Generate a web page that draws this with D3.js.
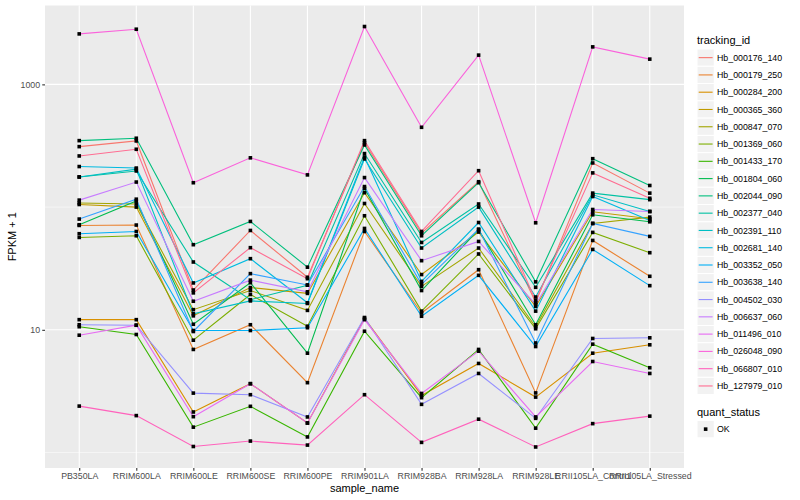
<!DOCTYPE html>
<html>
<head>
<meta charset="utf-8">
<script src="https://cdnjs.cloudflare.com/ajax/libs/d3/7.8.5/d3.min.js"></script>
<style>
body { margin: 0; background: #fff; }
svg { font-family: "Liberation Sans", Arial, Helvetica, sans-serif; }
</style>
</head>
<body>
<svg id="chart" width="800" height="500"></svg>
<script>
// x categories
var samples = ["PB350LA", "RRIM600LA", "RRIM600LE", "RRIM600SE", "RRIM600PE", "RRIM901LA",
    "RRIM928BA", "RRIM928LA", "RRIM928LE", "RRII105LA_Control", "RRII105LA_Stressed"];

var trackingIds = ["Hb_000176_140", "Hb_000179_250", "Hb_000284_200", "Hb_000365_360", "Hb_000847_070",
    "Hb_001369_060", "Hb_001433_170", "Hb_001804_060", "Hb_002044_090", "Hb_002377_040",
    "Hb_002391_110", "Hb_002681_140", "Hb_003352_050", "Hb_003638_140", "Hb_004502_030",
    "Hb_006637_060", "Hb_011496_010", "Hb_026048_090", "Hb_066807_010", "Hb_127979_010"];

var hueColours = ["#F8766D", "#EA8331", "#D89000", "#C09B00", "#A3A500", "#7CAE00", "#39B600", "#00BB4E",
    "#00BF7D", "#00C1A3", "#00BFC4", "#00BAE0", "#00B0F6", "#35A2FF", "#9590FF", "#C77CFF",
    "#E76BF3", "#FA62DB", "#FF62BC", "#FF6C91"];

// FPKM + 1, one array per gene, in sample order
var hb000176 = [311, 346, 21.1, 64.5, 26.8, 335, 61.4, 161, 16.7, 229, 130];
var hb000179 = [70.9, 71.4, 6.92, 11.0, 3.71, 63.3, 13.7, 30.9, 3.06, 53.5, 27.3];
var hb000284 = [12.1, 12.1, 2.14, 3.64, 1.74, 12.4, 2.92, 5.32, 2.83, 6.45, 7.55];
var hb000365 = [105, 100, 13.0, 22.1, 19.8, 131, 28.2, 62.6, 15.5, 91.6, 80.3];
var hb000847 = [108, 106, 14.6, 20.9, 14.4, 107, 22.6, 46.4, 10.6, 73.6, 82.9];
var hb001369 = [56.6, 58.4, 8.23, 19.4, 10.7, 85.0, 14.2, 41.5, 10.2, 62.2, 42.5];
var hb001433 = [10.6, 9.16, 1.61, 2.38, 1.34, 9.74, 2.80, 6.92, 1.58, 7.64, 4.91];
var hb001804 = [71.8, 112, 11.1, 24.2, 6.45, 142, 20.9, 65.4, 11.0, 86.6, 75.9];
var hb002044 = [348, 364, 49.4, 76.4, 32.4, 321, 58.4, 158, 24.6, 248, 150];
var hb002377 = [176, 197, 35.7, 17.6, 23.1, 273, 51.5, 106, 22.2, 130, 115];
var hb002391 = [176, 204, 13.5, 17.2, 16.4, 247, 46.4, 100, 18.5, 126, 92.1];
var hb002681 = [214, 208, 24.1, 38.0, 16.6, 256, 24.8, 74.9, 14.2, 122, 77.8];
var hb003352 = [60.7, 63.3, 9.87, 9.87, 10.4, 67.0, 12.9, 27.8, 7.31, 45.2, 22.9];
var hb003638 = [79.9, 116, 9.69, 28.7, 23.2, 147, 23.5, 66.2, 7.81, 73.6, 57.7];
var hb004502 = [11.0, 10.9, 3.05, 2.96, 1.95, 12.6, 2.47, 4.41, 1.90, 8.50, 8.61];
var hb006637 = [114, 160, 17.1, 25.4, 20.4, 174, 36.6, 52.5, 16.1, 95.6, 92.1];
var hb011496 = [9.04, 10.9, 1.96, 3.64, 1.74, 12.1, 3.03, 6.70, 1.95, 5.52, 4.41];
var hb026048 = [2578, 2815, 158, 252, 183, 2961, 447, 1731, 74.5, 2021, 1606];
var hb066807 = [2.39, 2.00, 1.12, 1.24, 1.15, 2.96, 1.21, 1.87, 1.11, 1.72, 1.98];
var hb127979 = [261, 296, 20.0, 46.7, 26.1, 348, 63.3, 198, 17.3, 190, 118];

var yTicks = [10, 1000];
var yMinor = [1, 100];
var quantStatus = ["OK"];

var geneValues = [hb000176, hb000179, hb000284, hb000365, hb000847, hb001369, hb001433, hb001804,
    hb002044, hb002377, hb002391, hb002681, hb003352, hb003638, hb004502, hb006637,
    hb011496, hb026048, hb066807, hb127979];

var series = trackingIds.map(function (id, i) {
    return { id: id, colour: hueColours[i], values: geneValues[i] };
});

var svg = d3.select("#chart");
var panel = { left: 45, right: 684, top: 5.5, bottom: 468 };

// log scale with ggplot's 5% expansion
var allValues = d3.merge(geneValues);
var logExtent = d3.extent(allValues).map(Math.log10);
var pad = (logExtent[1] - logExtent[0]) * 0.05;

var x = d3.scalePoint()
    .domain(samples)
    .range([panel.left, panel.right])
    .padding(0.6);

var y = d3.scaleLog()
    .domain([Math.pow(10, logExtent[0] - pad), Math.pow(10, logExtent[1] + pad)])
    .range([panel.bottom, panel.top]);

// Title Panel
// grey background and white grid
function drawPanel() {
    svg.append("rect")
        .attr("x", panel.left)
        .attr("y", panel.top)
        .attr("width", panel.right - panel.left)
        .attr("height", panel.bottom - panel.top)
        .style("fill", "#EBEBEB");

    svg.selectAll(".minor")
        .data(yMinor)
        .enter()
        .append("line")
        .attr("x1", panel.left).attr("x2", panel.right)
        .attr("y1", function (d) { return y(d); })
        .attr("y2", function (d) { return y(d); })
        .style("stroke", "#fff").style("stroke-width", 0.55);

    svg.selectAll(".major")
        .data(yTicks)
        .enter()
        .append("line")
        .attr("x1", panel.left).attr("x2", panel.right)
        .attr("y1", function (d) { return y(d); })
        .attr("y2", function (d) { return y(d); })
        .style("stroke", "#fff").style("stroke-width", 1.1);

    svg.selectAll(".vgrid")
        .data(samples)
        .enter()
        .append("line")
        .attr("y1", panel.top).attr("y2", panel.bottom)
        .attr("x1", function (d) { return x(d); })
        .attr("x2", function (d) { return x(d); })
        .style("stroke", "#fff").style("stroke-width", 1.1);
}

// Title Axes
function drawAxes() {
    var yAxis = svg.append("g")
        .attr("transform", "translate(" + panel.left + ",0)")
        .call(d3.axisLeft(y).tickValues(yTicks).tickFormat(d3.format("d")).tickSize(2.75).tickPadding(2.2));

    var xAxis = svg.append("g")
        .attr("transform", "translate(0," + panel.bottom + ")")
        .call(d3.axisBottom(x).tickSize(2.75).tickPadding(2.2));

    [yAxis, xAxis].forEach(function (g) {
        g.select(".domain").remove();
        g.selectAll("line").style("stroke", "#333").style("stroke-width", 1.1);
        g.selectAll("text").style("fill", "#4D4D4D").style("font-size", "8.8px");
    });

    svg.append("text")
        .attr("x", (panel.left + panel.right) / 2)
        .attr("y", 492)
        .attr("text-anchor", "middle")
        .style("font-size", "11px")
        .text("sample_name");

    svg.append("text")
        .attr("transform", "translate(16," + (panel.top + panel.bottom) / 2 + ") rotate(-90)")
        .attr("text-anchor", "middle")
        .style("font-size", "11px")
        .text("FPKM + 1");
}

// Title Lines and Points
function drawSeries() {
    var line = d3.line()
        .x(function (d, i) { return x(samples[i]); })
        .y(function (d) { return y(d); });

    svg.selectAll(".gene")
        .data(series)
        .enter()
        .append("path")
        .attr("d", function (d) { return line(d.values); })
        .style("fill", "none")
        .style("stroke", function (d) { return d.colour; })
        .style("stroke-width", 1.1);

    series.forEach(function (s) {
        svg.append("g")
            .selectAll("rect")
            .data(s.values)
            .enter()
            .append("rect")
            .attr("x", function (d, i) { return x(samples[i]) - 1.8; })
            .attr("y", function (d) { return y(d) - 1.8; })
            .attr("width", 3.6)
            .attr("height", 3.6)
            .style("fill", "#000");
    });
}

// Title Legend Key
function legendKey(g, top, i) {
    g.append("rect")
        .attr("x", 697)
        .attr("y", top + i * 17.28)
        .attr("width", 17.28)
        .attr("height", 17.28)
        .style("fill", "#F2F2F2")
        .style("stroke", "#fff")
        .style("stroke-width", 1);
}

function legendText(g, top, i, label) {
    g.append("text")
        .attr("x", 717)
        .attr("y", top + i * 17.28 + 8.64)
        .attr("dy", "0.35em")
        .style("font-size", "8.8px")
        .text(label);
}

// Title Render Legends
function drawLegends() {
    var legends = svg.append("g");
    var top = 49;

    legends.append("text")
        .attr("x", 697).attr("y", 44)
        .style("font-size", "11px")
        .text("tracking_id");

    series.forEach(function (s, i) {
        legendKey(legends, top, i);
        legends.append("line")
            .attr("x1", 698.7).attr("x2", 712.6)
            .attr("y1", top + i * 17.28 + 8.64)
            .attr("y2", top + i * 17.28 + 8.64)
            .style("stroke", s.colour)
            .style("stroke-width", 1.1);
        legendText(legends, top, i, s.id);
    });

    var top2 = 420.5;
    legends.append("text")
        .attr("x", 697).attr("y", 416)
        .style("font-size", "11px")
        .text("quant_status");

    quantStatus.forEach(function (d, i) {
        legendKey(legends, top2, i);
        legends.append("rect")
            .attr("x", 697 + 8.64 - 1.8)
            .attr("y", top2 + i * 17.28 + 8.64 - 1.8)
            .attr("width", 3.6).attr("height", 3.6)
            .style("fill", "#000");
        legendText(legends, top2, i, d);
    });
}

drawPanel();
drawAxes();
drawSeries();
drawLegends();
</script>
</body>
</html>
